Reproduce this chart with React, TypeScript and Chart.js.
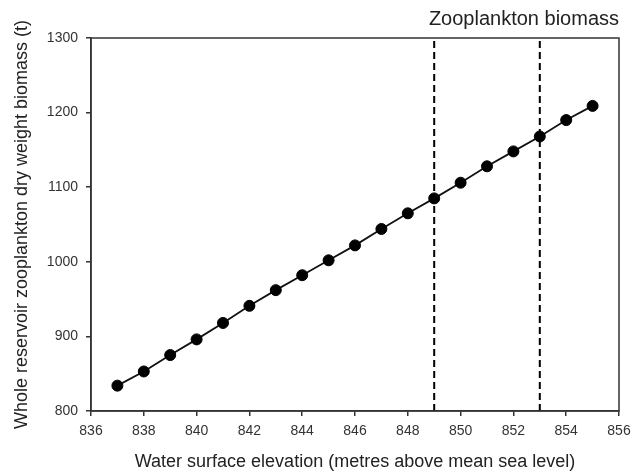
import React, { useEffect, useRef } from "react";
import { Chart, registerables } from "chart.js";

Chart.register(...registerables);

const elevations = [837, 838, 839, 840, 841, 842, 843, 844, 845, 846, 847, 848, 849, 850, 851, 852, 853, 854, 855];
const biomass = [834, 853, 875, 896, 918, 941, 962, 982, 1002, 1022, 1044, 1065, 1085, 1106, 1128, 1148, 1168, 1190, 1209];
const thresholdElevations = [849, 853];
const xRange = [836, 856];
const yRange = [800, 1300];
const chartTitle = "Zooplankton biomass";
const xTitle = "Water surface elevation (metres above mean sea level)";
const yTitle = "Whole reservoir zooplankton dry weight biomass (t)";

const FONT = "'Liberation Sans', Arial, sans-serif";
const AXIS = "#333333";

const frame = {
  id: "frame",
  afterDatasetsDraw(chart: any) {
    const { ctx, chartArea } = chart;
    ctx.save();
    ctx.strokeStyle = AXIS;
    ctx.lineWidth = 1.5;
    ctx.strokeRect(chartArea.left, chartArea.top, chartArea.right - chartArea.left, chartArea.bottom - chartArea.top);
    ctx.restore();
  },
};

export default function App() {
  const ref = useRef<HTMLCanvasElement>(null);
  useEffect(() => {
    const canvas = ref.current;
    if (!canvas) return;
    const points = elevations.map((x, i) => ({ x, y: biomass[i] }));
    const dashSets = thresholdElevations.map((x) => ({
      type: "line" as const,
      data: [
        { x, y: yRange[0] },
        { x, y: yRange[1] },
      ],
      borderColor: "#000",
      borderWidth: 2,
      borderDash: [7, 4],
      pointRadius: 0,
      fill: false,
      order: 1,
    }));
    const chart = new Chart(canvas, {
      type: "line",
      data: {
        datasets: [
          {
            data: points,
            borderColor: "#111",
            borderWidth: 1.8,
            pointRadius: 5.5,
            pointBackgroundColor: "#000",
            pointBorderColor: "#000",
            pointBorderWidth: 1,
            fill: false,
            tension: 0,
            order: 0,
          },
          ...dashSets,
        ],
      },
      options: {
        responsive: false,
        animation: false,
        layout: { padding: { left: 0, right: 15, top: 0, bottom: 0 } },
        plugins: {
          legend: { display: false },
          tooltip: { enabled: false },
          title: {
            display: true,
            text: chartTitle,
            align: "end",
            color: "#222",
            font: { family: FONT, size: 20, weight: "normal" },
            padding: { top: 7, bottom: 7 },
          },
        },
        scales: {
          x: {
            type: "linear",
            min: xRange[0],
            max: xRange[1],
            afterFit(scale: any) {
              scale.height = 62;
              scale.paddingLeft = 0;
              scale.paddingRight = 0;
            },
            ticks: {
              stepSize: 2,
              color: AXIS,
              padding: 7,
              maxRotation: 0,
              font: { family: FONT, size: 14 },
              callback: (v: any) => String(v),
            },
            grid: {
              drawOnChartArea: false,
              drawTicks: true,
              tickLength: 5,
              color: AXIS,
              lineWidth: 1.5,
            },
            border: { display: true, color: AXIS, width: 1.5 },
            title: {
              display: true,
              text: xTitle,
              color: "#222",
              font: { family: FONT, size: 18 },
              padding: { top: 0, bottom: 0 },
            },
          },
          y: {
            type: "linear",
            min: yRange[0],
            max: yRange[1],
            afterFit(scale: any) {
              scale.width = 91;
              scale.paddingTop = 0;
              scale.paddingBottom = 0;
            },
            ticks: {
              stepSize: 100,
              color: AXIS,
              padding: 8,
              font: { family: FONT, size: 14 },
              callback: (v: any) => String(v),
            },
            grid: {
              drawOnChartArea: false,
              drawTicks: true,
              tickLength: 5,
              color: AXIS,
              lineWidth: 1.5,
            },
            border: { display: true, color: AXIS, width: 1.5 },
            title: {
              display: true,
              text: yTitle,
              color: "#222",
              font: { family: FONT, size: 18 },
              padding: { top: 11, bottom: 0 },
            },
          },
        },
      },
      plugins: [frame],
    } as any);
    return () => chart.destroy();
  }, []);
  return (
    <div style={{ position: "fixed", left: 0, top: 0, width: 634, height: 473, background: "#fff" }}>
      <canvas ref={ref} width={634} height={473} style={{ display: "block" }} />
    </div>
  );
}
